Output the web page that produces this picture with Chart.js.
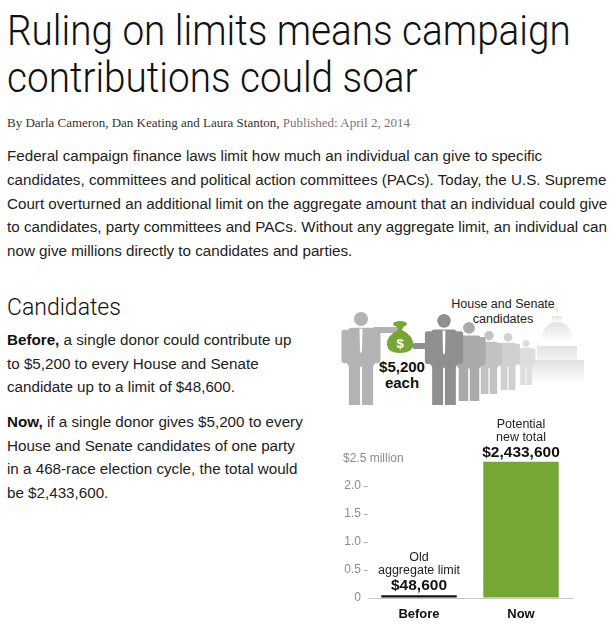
<!DOCTYPE html>
<html>
<head>
<meta charset="utf-8">
<script src="https://cdn.jsdelivr.net/npm/chart.js@4.4.1/dist/chart.umd.min.js"></script>
<style>
  body { margin: 0; width: 611px; height: 633px; overflow: hidden; background: #fff; position: relative;
         font-family: "Liberation Sans", Arial, sans-serif; color: #222; }
  .abs { position: absolute; white-space: nowrap; }
  .title { left: 7px; font-family: Roboto; font-weight: 300; font-size: 43px; line-height: 47px;
           color: #111; transform: scaleX(0.9); transform-origin: 0 0; }
  #t1 { top: 7px; }
  #t2 { top: 54px; }
  #byline { left: 7px; top: 115px; font-family: "Liberation Serif", serif; font-size: 13px; line-height: 15px; color: #333; }
  #byline span { color: #777; }
  #intro { left: 7px; top: 144px; font-size: 15.2px; line-height: 23.8px; color: #222; }
  #head2 { left: 7px; top: 294px; font-family: Roboto; font-weight: 300; font-size: 23px; line-height: 28px; color: #111; }
  .para { left: 7px; font-size: 15.2px; line-height: 23.5px; color: #222; }
  #p1 { top: 328px; }
  #p2 { top: 410px; }
  .para b { color: #111; }
  #art { position: absolute; left: 0; top: 0; }
  #chartBox { position: absolute; left: 320px; top: 410px; width: 291px; height: 223px; }
</style>
</head>
<body>
<div id="t1" class="abs title">Ruling on limits means campaign</div>
<div id="t2" class="abs title">contributions could soar</div>
<div id="byline" class="abs">By Darla Cameron, Dan Keating and Laura Stanton, <span>Published: April 2, 2014</span></div>
<div id="intro" class="abs">Federal campaign finance laws limit how much an individual can give to specific<br>candidates, committees and political action committees (PACs). Today, the U.S. Supreme<br>Court overturned an additional limit on the aggregate amount that an individual could give<br>to candidates, party committees and PACs. Without any aggregate limit, an individual can<br>now give millions directly to candidates and parties.</div>
<div id="head2" class="abs">Candidates</div>
<div id="p1" class="abs para"><b>Before,</b> a single donor could contribute up<br>to $5,200 to every House and Senate<br>candidate up to a limit of $48,600.</div>
<div id="p2" class="abs para"><b>Now,</b> if a single donor gives $5,200 to every<br>House and Senate candidates of one party<br>in a 468-race election cycle, the total would<br>be $2,433,600.</div>

<svg id="art" width="611" height="633" xmlns="http://www.w3.org/2000/svg"></svg>

<div id="chartBox"><canvas id="chart"></canvas></div>

<script>
// values in millions of dollars
const categories = ["Before", "Now"];
const totals = [0.0486, 2.4336];
const amountLabels = ["$48,600", "$2,433,600"];
const noteLines = [["Old", "aggregate limit"], ["Potential", "new total"]];
const barColors = ["#111111", "#76a735"];
const yTicks = [0, 0.5, 1.0, 1.5, 2.0, 2.5];

// --- illustration: donor handing money to a line of candidates ---
const svg = document.getElementById("art");
const NS = "http://www.w3.org/2000/svg";

function el(tag, attrs, parent) {
  const e = document.createElementNS(NS, tag);
  for (const k in attrs) e.setAttribute(k, attrs[k]);
  (parent || svg).appendChild(e);
  return e;
}

function person(cx, top, bottom, fill, tie) {
  const h = bottom - top;
  const r = h * 0.075;
  const g = el("g", { fill: fill });
  el("circle", { cx: cx, cy: top + r, r: r }, g);
  const tw = h * 0.3;
  el("rect", { x: cx - tw / 2, y: top + h * 0.17, width: tw, height: h * 0.42, rx: h * 0.05 }, g);
  // arms
  el("rect", { x: cx - tw / 2 - h * 0.06, y: top + h * 0.19, width: h * 0.08, height: h * 0.36, rx: h * 0.03 }, g);
  el("rect", { x: cx + tw / 2 - h * 0.02, y: top + h * 0.19, width: h * 0.08, height: h * 0.36, rx: h * 0.03 }, g);
  // legs
  el("rect", { x: cx - tw / 2 + h * 0.02, y: top + h * 0.55, width: tw / 2 - h * 0.03, height: h * 0.45 }, g);
  el("rect", { x: cx + h * 0.01, y: top + h * 0.55, width: tw / 2 - h * 0.03, height: h * 0.45 }, g);
  if (tie) {
    el("polygon", { points: [cx - 1.5, top + h * 0.18, cx + 1.5, top + h * 0.18, cx + 1, top + h * 0.42, cx, top + h * 0.45, cx - 1, top + h * 0.42].join(" "), fill: tie });
  }
  return g;
}

// capitol dome, faded
const defs = el("defs", {});
const grad = el("linearGradient", { id: "fade", x1: 0, y1: 0, x2: 0, y2: 1 }, defs);
el("stop", { offset: "0", "stop-color": "#e2e2e2" }, grad);
el("stop", { offset: "0.8", "stop-color": "#ffffff" }, grad);
const dome = el("g", { fill: "url(#fade)" });
el("rect", { x: 556, y: 308, width: 2, height: 10 }, dome);
el("rect", { x: 552, y: 316, width: 10, height: 8 }, dome);
el("path", { d: "M541,346 Q541,322 557,322 Q573,322 573,346 Z" }, dome);
el("rect", { x: 537, y: 346, width: 40, height: 30 }, dome);
el("rect", { x: 530, y: 360, width: 54, height: 30 }, dome);

// receding candidates
person(526, 340, 385, "#dddddd");
person(508, 333, 390, "#d0d0d0");
person(489, 331, 394, "#c2c2c2");
person(469, 322, 401, "#aaaaaa");

// recipient and donor
person(444, 314, 405, "#8f8f8f", "#ffffff");
el("rect", { x: 412, y: 343, width: 24, height: 6, rx: 3, fill: "#8f8f8f" });
person(361, 312, 405, "#b3b3b3", "#ffffff");
el("rect", { x: 372, y: 327, width: 26, height: 6, rx: 3, fill: "#b3b3b3" });

// money bag
el("path", { d: "M394,322 L406,322 L402,330 Q414,336 413,345 Q412,353 400,353 Q388,353 387,345 Q386,336 398,330 Z", fill: "#76a735" });
el("ellipse", { cx: 400, cy: 324, rx: 7, ry: 3, fill: "#76a735" });
const dollar = el("text", { x: 400, y: 348, "text-anchor": "middle", fill: "#fff",
  "font-family": "Liberation Sans", "font-weight": "bold", "font-size": "13" });
dollar.textContent = "$";

function label(txt, x, y, size, weight, color) {
  const t = el("text", { x: x, y: y, "text-anchor": "middle", fill: color || "#222",
    "font-family": "Liberation Sans", "font-size": size, "font-weight": weight || "normal" });
  t.textContent = txt;
}
label("$5,200", 402, 372, 15, "bold", "#111");
label("each", 402, 388, 15, "bold", "#111");
label("House and Senate", 503, 308, 12.5);
label("candidates", 503, 323, 12.5);

// --- chart ---
const barNotes = {
  id: "barNotes",
  afterDatasetsDraw(chart) {
    const ctx = chart.ctx;
    const meta = chart.getDatasetMeta(0);
    ctx.save();
    ctx.textAlign = "center";
    ctx.textBaseline = "alphabetic";
    meta.data.forEach((bar, i) => {
      ctx.fillStyle = "#111";
      ctx.font = 'bold 15.5px "Liberation Sans"';
      ctx.fillText(amountLabels[i], bar.x, bar.y - 5);
      ctx.fillStyle = "#222";
      ctx.font = '12.5px "Liberation Sans"';
      ctx.fillText(noteLines[i][1], bar.x, bar.y - 21);
      ctx.fillText(noteLines[i][0], bar.x, bar.y - 34);
    });
    // top tick carries the unit
    const y = chart.scales.y;
    ctx.textAlign = "left";
    ctx.textBaseline = "middle";
    ctx.fillStyle = "#8c8c8c";
    ctx.font = '12px "Liberation Sans"';
    ctx.fillText("$2.5 million", chart.chartArea.left - 25, y.getPixelForValue(2.5) + 1);
    ctx.restore();
  }
};

new Chart(document.getElementById("chart"), {
  type: "bar",
  data: {
    labels: categories,
    datasets: [{
      data: totals,
      backgroundColor: barColors,
      barPercentage: 0.74,
      categoryPercentage: 1
    }]
  },
  options: {
    responsive: true,
    maintainAspectRatio: false,
    animation: false,
    layout: { padding: { top: 48, right: 39, left: 0, bottom: 0 } },
    plugins: { legend: { display: false }, tooltip: { enabled: false } },
    scales: {
      x: {
        afterFit: s => { s.height = 35; },
        border: { color: "#c8c8c8" },
        grid: { display: false },
        ticks: { color: "#111", font: { family: "Liberation Sans", size: 13, weight: "bold" }, padding: 1 }
      },
      y: {
        min: 0,
        max: 2.5,
        afterFit: s => { s.width = 48; },
        afterBuildTicks: s => { s.ticks = yTicks.map(v => ({ value: v })); },
        border: { display: false },
        grid: {
          drawOnChartArea: false,
          tickLength: 4,
          tickColor: c => (c.tick && (c.tick.value === 0 || c.tick.value === 2.5)) ? "rgba(0,0,0,0)" : "#b0b0b0"
        },
        ticks: {
          color: "#8c8c8c",
          font: { family: "Liberation Sans", size: 12 },
          padding: 3,
          callback: v => v === 2.5 ? "" : (v === 0 ? "0" : v.toFixed(1))
        }
      }
    }
  },
  plugins: [barNotes]
});
</script>
</body>
</html>
